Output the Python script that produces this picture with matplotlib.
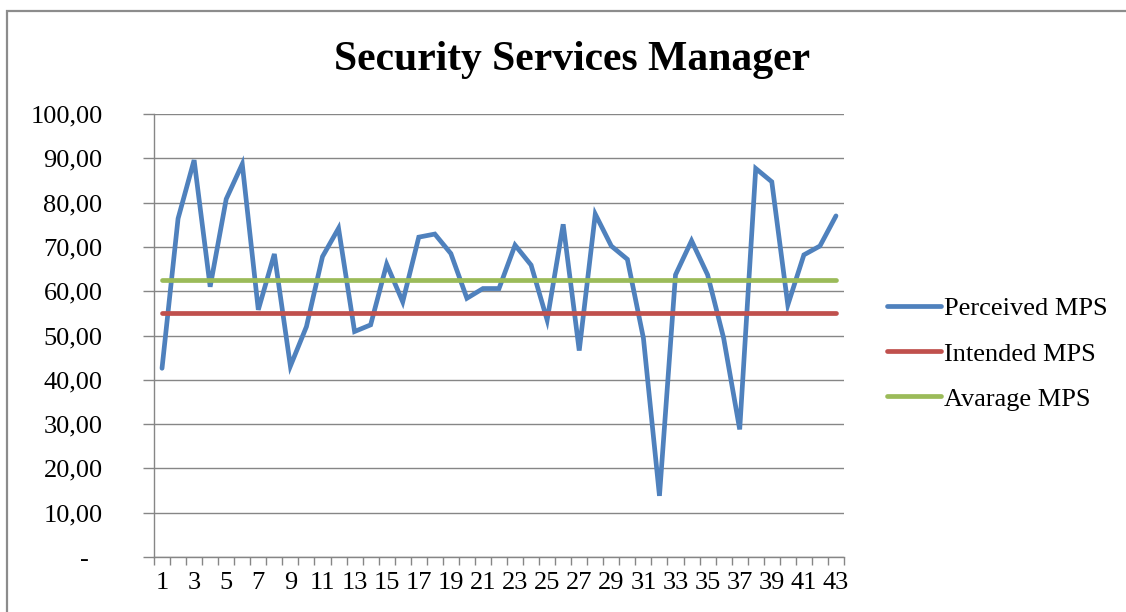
# import statements
import matplotlib.pyplot as plt
from matplotlib.patches import Rectangle
from matplotlib.ticker import FixedLocator, FuncFormatter

# data
points = list(range(1, 44))
perceived = [42.6, 76.4, 89.6, 61.0, 80.8, 88.7, 55.8, 68.4, 43.1, 52.0,
             67.8, 74.2, 50.9, 52.4, 66.1, 57.6, 72.2, 72.9, 68.5, 58.4,
             60.6, 60.6, 70.4, 65.9, 53.5, 75.1, 46.6, 77.4, 70.2, 67.2,
             49.4, 13.8, 63.7, 71.4, 63.7, 49.4, 28.8, 87.7, 84.7, 56.9,
             68.2, 70.2, 77.0]
intended = [55.0] * 43
average = [62.5] * 43

plt.rcParams['font.family'] = ['Liberation Serif', 'DejaVu Serif']

# create the figure
fig = plt.figure(figsize=(11.26, 6.12), dpi=100)
ax = fig.add_axes([154 / 1126, 55 / 612, 690 / 1126, 443 / 612])

# outer chart border (cropped at right and bottom)
fig.patches.append(Rectangle((7 / 1126, -0.1), 1.2, 1.1 - 11 / 612,
                             transform=fig.transFigure, fill=False,
                             edgecolor='#8c8c8c', linewidth=1.6))

# plot the lines
ax.plot(points, perceived, color='#4F81BD', linewidth=3.4, label='Perceived MPS',
        solid_capstyle='round', solid_joinstyle='miter')
ax.plot(points, intended, color='#C0504D', linewidth=3.4, label='Intended MPS',
        solid_capstyle='round')
ax.plot(points, average, color='#9BBB59', linewidth=3.4, label='Avarage MPS',
        solid_capstyle='round')

# scales
ax.set_xlim(0.5, 43.5)
ax.set_ylim(0, 100)
ax.set_yticks(range(0, 101, 10))
ax.yaxis.set_major_formatter(FuncFormatter(
    lambda v, p: '-  ' if v == 0 else f'{v:.2f}'.replace('.', ',')))

# x ticks between categories, labels on odd categories
ax.xaxis.set_major_locator(FixedLocator([i + 0.5 for i in range(0, 44)]))
ax.xaxis.set_major_formatter(FuncFormatter(lambda v, p: ''))
ax.xaxis.set_minor_locator(FixedLocator(list(range(1, 44, 2))))
ax.xaxis.set_minor_formatter(FuncFormatter(lambda v, p: str(int(v))))
ax.tick_params(axis='x', which='major', length=6, color='#868686', width=1)
ax.tick_params(axis='x', which='minor', length=0, pad=11, labelsize=19)
ax.tick_params(axis='y', length=8, color='#868686', width=1, pad=29, labelsize=19)

# grid and spines
ax.grid(axis='y', color='#868686', linewidth=1)
ax.set_axisbelow(True)
for side in ['top', 'right']:
    ax.spines[side].set_visible(False)
for side in ['left', 'bottom']:
    ax.spines[side].set_color('#868686')
    ax.spines[side].set_linewidth(1)

# title
fig.text(572 / 1126, 1 - 60 / 612, 'Security Services Manager', ha='center',
         va='center', fontsize=30, fontweight='bold')

# legend
ax.legend(loc='upper left', bbox_to_anchor=(887 / 1126, 1 - 297 / 612),
          bbox_transform=fig.transFigure, frameon=False, fontsize=19,
          handlelength=2.05, handletextpad=0.1, labelspacing=0.82,
          borderpad=0, borderaxespad=0)

plt.savefig('out.png', dpi=100)
